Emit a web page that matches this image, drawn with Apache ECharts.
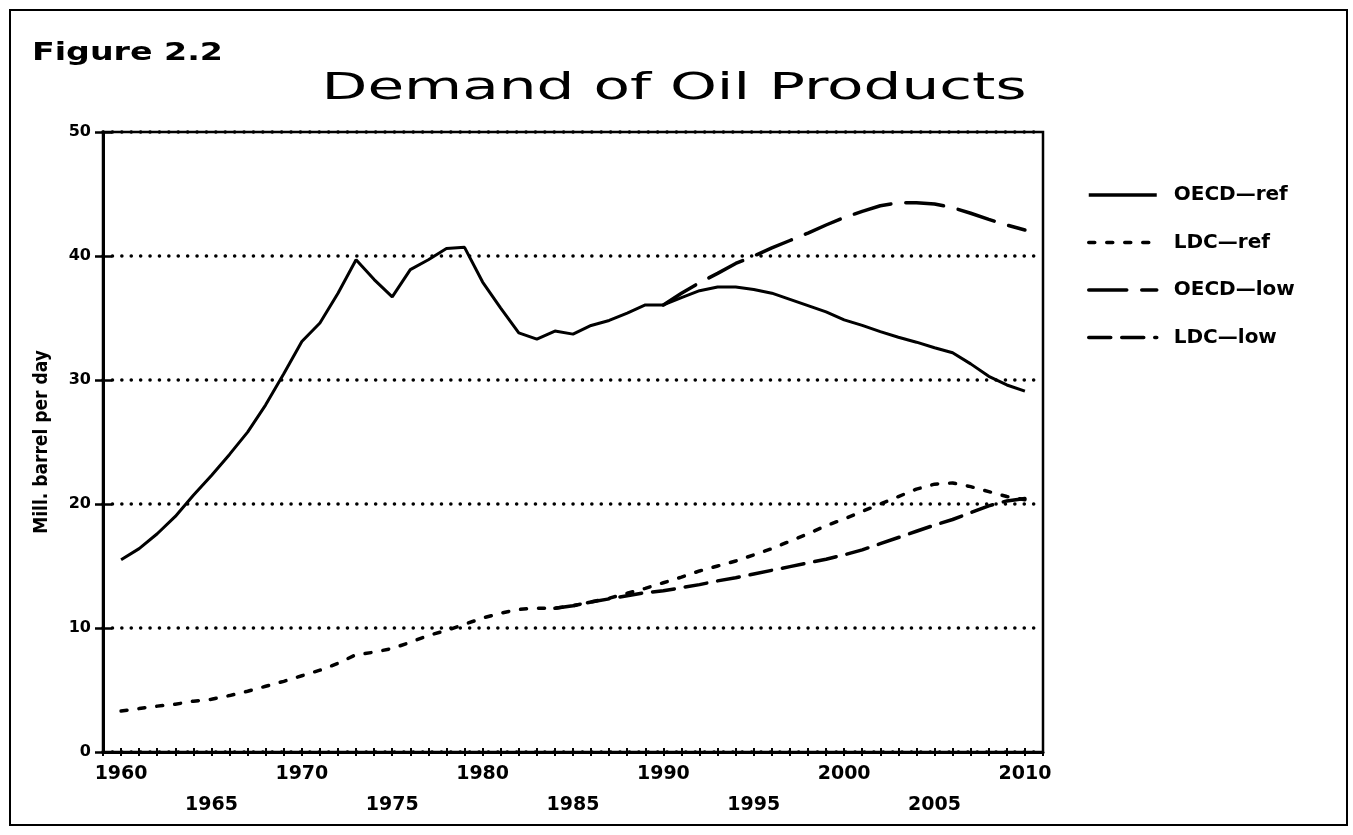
<!DOCTYPE html>
<html>
<head>
<meta charset="utf-8">
<script src="https://cdn.jsdelivr.net/npm/echarts@6/dist/echarts.min.js"></script>
<style>
  html, body { margin: 0; padding: 0; background: #fff; }
  #chart { width: 1353px; height: 835px; }
</style>
</head>
<body>
<div id="chart"></div>
<script>
// ---- Data ----
const figureLabel = 'Figure 2.2';
const chartTitle = 'Demand of Oil Products';
const yAxisName = 'Mill. barrel per day';
const seriesNames = ['OECD-ref', 'LDC-ref', 'OECD-low', 'LDC-low'];

const yearsRef = [1960, 1961, 1962, 1963, 1964, 1965, 1966, 1967, 1968, 1969,
  1970, 1971, 1972, 1973, 1974, 1975, 1976, 1977, 1978, 1979,
  1980, 1981, 1982, 1983, 1984, 1985, 1986, 1987, 1988, 1989,
  1990, 1991, 1992, 1993, 1994, 1995, 1996, 1997, 1998, 1999,
  2000, 2001, 2002, 2003, 2004, 2005, 2006, 2007, 2008, 2009, 2010];

const oecdRef = [15.5, 16.4, 17.6, 19.0, 20.7, 22.3, 24.0, 25.8, 28.0, 30.5,
  33.1, 34.6, 37.0, 39.7, 38.1, 36.7, 38.9, 39.7, 40.6, 40.7,
  37.9, 35.8, 33.8, 33.3, 33.95, 33.7, 34.4, 34.8, 35.4, 36.05,
  36.05, 36.65, 37.2, 37.5, 37.5, 37.3, 37.0, 36.5, 36.0, 35.5,
  34.85, 34.4, 33.9, 33.45, 33.05, 32.6, 32.2, 31.3, 30.3, 29.6, 29.1];

const ldcRef = [3.3, 3.5, 3.7, 3.85, 4.1, 4.25, 4.55, 4.9, 5.3, 5.7,
  6.15, 6.6, 7.15, 7.85, 8.05, 8.35, 8.85, 9.4, 9.8, 10.3,
  10.8, 11.2, 11.5, 11.6, 11.6, 11.8, 12.1, 12.4, 12.8, 13.2,
  13.65, 14.1, 14.6, 15.0, 15.4, 15.9, 16.4, 17.0, 17.6, 18.25,
  18.8, 19.4, 20.0, 20.6, 21.2, 21.6, 21.7, 21.4, 21.0, 20.6, 20.35];

const yearsOecdLow = [1990, 1991, 1992, 1993, 1994, 1995, 1996, 1997, 1998, 1999,
  2000, 2001, 2002, 2003, 2004, 2005, 2006, 2007, 2008, 2009, 2010];
const oecdLow = [36.05, 37.0, 37.85, 38.6, 39.4, 40.0, 40.65, 41.25, 41.85, 42.5,
  43.1, 43.6, 44.05, 44.3, 44.3, 44.2, 43.9, 43.45, 42.95, 42.5, 42.1];

const yearsLdcLow = [1984, 1985, 1986, 1987, 1988, 1989,
  1990, 1991, 1992, 1993, 1994, 1995, 1996, 1997, 1998, 1999,
  2000, 2001, 2002, 2003, 2004, 2005, 2006, 2007, 2008, 2009, 2010];
const ldcLow = [11.6, 11.8, 12.1, 12.35, 12.6, 12.85,
  13.0, 13.25, 13.5, 13.8, 14.05, 14.35, 14.65, 14.95, 15.25, 15.55,
  15.9, 16.3, 16.8, 17.3, 17.8, 18.3, 18.75, 19.3, 19.85, 20.25, 20.45];

const xMin = 1959, xMax = 2011, xStep = 1;
const yMin = 0, yMax = 50, yStep = 10;

// ---- Build ----
function pairs(xs, ys) { return xs.map((x, i) => [x, ys[i]]); }

const BOLD = 'DejaVu Sans';
const chart = echarts.init(document.getElementById('chart'), null, { renderer: 'canvas' });

const lineBase = { type: 'line', symbol: 'none', showSymbol: false, smooth: false, animation: false, xAxisIndex: 0, yAxisIndex: 0 };

const option = {
  backgroundColor: '#ffffff',
  animation: false,
  graphic: [
    { type: 'rect', shape: { x: 10, y: 10, width: 1337, height: 815 },
      style: { fill: 'none', stroke: '#000', lineWidth: 2 }, silent: true },
    { type: 'text', x: 32, y: 53, scaleX: 1.33, scaleY: 1,
      style: { text: figureLabel, fill: '#000', fontFamily: BOLD, fontWeight: 'bold', fontSize: 25,
               textAlign: 'left', textVerticalAlign: 'middle', align: 'left', verticalAlign: 'middle' } },
    { type: 'text', x: 674, y: 89, scaleX: 1.57, scaleY: 1,
      style: { text: chartTitle, fill: '#000', fontFamily: 'DejaVu Sans', fontWeight: 'normal', fontSize: 38,
               textAlign: 'center', textVerticalAlign: 'middle', align: 'center', verticalAlign: 'middle' } }
  ],
  legend: {
    data: seriesNames,
    orient: 'vertical',
    left: 1082, top: 180,
    itemWidth: 68, itemHeight: 20, itemGap: 27.5,
    itemStyle: { opacity: 0, color: 'transparent', borderWidth: 0 },
    lineStyle: { width: 3.5 },
    formatter: n => n.replace('-', '\u2014'),
    textStyle: { fontFamily: BOLD, fontWeight: 'bold', fontSize: 20, color: '#000', padding: [0, 0, 0, 12] }
  },
  grid: { left: 103, top: 132, right: 310, bottom: 83, show: true, borderColor: '#000', borderWidth: 2.5, backgroundColor: 'transparent' },
  xAxis: [
    { type: 'value', min: xMin, max: xMax, interval: xStep, position: 'bottom',
      axisLine: { show: true, onZero: false, lineStyle: { color: '#000', width: 3 } },
      axisTick: { show: true, inside: false, length: 4, lineStyle: { color: '#000', width: 2 } },
      axisLabel: { show: true, color: '#000', fontFamily: BOLD, fontWeight: 'bold', fontSize: 19, margin: 7, lineHeight: 31,
        showMinLabel: true, showMaxLabel: true, hideOverlap: false,
        formatter: v => (v % 10 === 0 ? String(v) : (v % 10 === 5 ? '\n' + v : '')) },
      splitLine: { show: false } },
    { type: 'value', min: xMin, max: xMax, interval: xStep, position: 'bottom',
      axisLine: { show: false },
      axisTick: { show: true, inside: true, length: 4, lineStyle: { color: '#000', width: 2 } },
      axisLabel: { show: false }, splitLine: { show: false } }
  ],
  yAxis: [
    { type: 'value', min: yMin, max: yMax, interval: yStep, position: 'left',
      name: yAxisName, nameLocation: 'middle', nameGap: 51, nameRotate: 90,
      nameTextStyle: { fontFamily: "'Liberation Sans Narrow', 'DejaVu Sans Condensed', sans-serif", fontWeight: 'bold', fontSize: 19, color: '#000' },
      axisLine: { show: true, onZero: false, lineStyle: { color: '#000', width: 3 } },
      axisTick: { show: true, inside: false, length: 8, lineStyle: { color: '#000', width: 2.5 } },
      axisLabel: { color: '#000', fontFamily: BOLD, fontWeight: 'bold', fontSize: 16, margin: 12 },
      splitLine: { show: true, lineStyle: { color: '#000', width: 3.5, type: [0.1, 9.3], cap: 'round' } } },
    { type: 'value', min: yMin, max: yMax, interval: yStep, position: 'left',
      axisLine: { show: false },
      axisTick: { show: true, inside: true, length: 9, lineStyle: { color: '#000', width: 2.5 } },
      axisLabel: { show: false }, splitLine: { show: false } }
  ],
  series: [
    Object.assign({}, lineBase, { name: seriesNames[0], data: pairs(yearsRef, oecdRef), z: 5,
      lineStyle: { color: '#000', width: 3, type: 'solid' }, itemStyle: { color: '#000' } }),
    Object.assign({}, lineBase, { name: seriesNames[1], data: pairs(yearsRef, ldcRef), z: 4,
      lineStyle: { color: '#000', width: 3.5, type: [6, 12], cap: 'round' }, itemStyle: { color: '#000' } }),
    Object.assign({}, lineBase, { name: seriesNames[2], data: pairs(yearsOecdLow, oecdLow), z: 3,
      lineStyle: { color: '#000', width: 3.5, type: [38, 15], cap: 'round' }, itemStyle: { color: '#000' } }),
    Object.assign({}, lineBase, { name: seriesNames[3], data: pairs(yearsLdcLow, ldcLow), z: 3,
      lineStyle: { color: '#000', width: 3.5, type: [22, 11], cap: 'round' }, itemStyle: { color: '#000' } })
  ]
};
chart.setOption(option);
</script>
</body>
</html>
